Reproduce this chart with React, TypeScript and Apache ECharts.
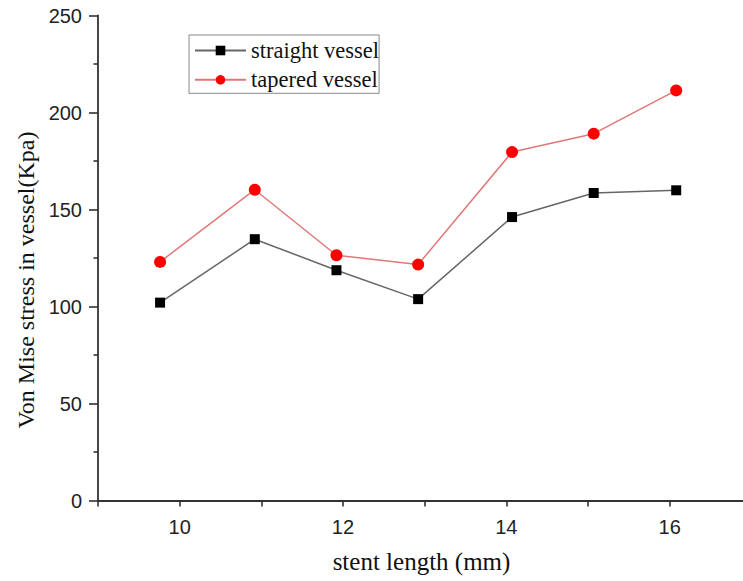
import React, { useEffect, useRef } from "react";
import * as echarts from "echarts";

const stentLength = [9.76, 10.92, 11.92, 12.92, 14.07, 15.07, 16.08];
const straightVessel = [102, 134.7, 118.7, 103.8, 146.1, 158.5, 159.9];
const taperedVessel = [123, 160.2, 126.4, 121.6, 179.6, 189.1, 211.4];
const seriesNames = ["straight vessel", "tapered vessel"];
const xTitle = "stent length (mm)";
const yTitle = "Von Mise stress in vessel(Kpa)";

const serif = "'Liberation Serif', 'Times New Roman', serif";
const sans = "'Liberation Sans', Arial, sans-serif";

export default function App() {
  const ref = useRef<HTMLDivElement>(null);
  useEffect(() => {
    if (!ref.current) return;
    const chart = echarts.init(ref.current, undefined, { renderer: "svg" });
    chart.setOption({
      animation: false,
      grid: { left: 98, right: 0, top: 15.5, bottom: 80.5 },
      legend: {
        orient: "vertical",
        left: 189,
        top: 35,
        padding: [4, 0, 2, 5],
        itemGap: 6.3,
        itemWidth: 51,
        itemHeight: 12,
        borderColor: "#888",
        borderWidth: 1,
        data: seriesNames,
        textStyle: { fontFamily: serif, fontSize: 22.5, color: "#111", lineHeight: 22 },
      },
      xAxis: {
        type: "value",
        min: 9,
        max: 16.898,
        interval: 1,
        axisLine: { show: true, lineStyle: { color: "#333", width: 1.8 } },
        axisTick: { show: true, length: 6, lineStyle: { color: "#333", width: 1.6 } },
        axisLabel: {
          fontFamily: sans,
          fontSize: 20,
          color: "#222",
          margin: 16,
          showMaxLabel: false,
          formatter: (v: number) => (Number.isInteger(v) && v % 2 === 0 ? String(v) : ""),
        },
        splitLine: { show: false },
        name: xTitle,
        nameLocation: "middle",
        nameGap: 48,
        nameTextStyle: { fontFamily: serif, fontSize: 25, color: "#111", padding: [0, 0, 0, 2] },
      },
      yAxis: {
        type: "value",
        min: 0,
        max: 250,
        interval: 50,
        axisLine: { show: true, lineStyle: { color: "#333", width: 1.8 } },
        axisTick: { show: true, length: 9, lineStyle: { color: "#333", width: 1.6 } },
        minorTick: { show: true, splitNumber: 2, length: 4.5, lineStyle: { color: "#333", width: 1.6 } },
        axisLabel: { fontFamily: sans, fontSize: 20, color: "#222", margin: 16 },
        splitLine: { show: false },
        name: yTitle,
        nameLocation: "middle",
        nameGap: 60,
        nameTextStyle: { fontFamily: serif, fontSize: 24, color: "#111", padding: [0, 44, 0, 0] },
      },
      series: [
        {
          name: seriesNames[0],
          type: "line",
          data: stentLength.map((x, i) => [x, straightVessel[i]]),
          symbol: "rect",
          symbolSize: 10,
          itemStyle: { color: "#000" },
          lineStyle: { color: "#666", width: 1.5 },
        },
        {
          name: seriesNames[1],
          type: "line",
          data: stentLength.map((x, i) => [x, taperedVessel[i]]),
          symbol: "circle",
          symbolSize: 12,
          itemStyle: { color: "#ff0000" },
          lineStyle: { color: "#e07878", width: 1.5 },
        },
      ],
    });
    return () => chart.dispose();
  }, []);
  return <div ref={ref} style={{ width: 743, height: 581, position: "absolute", left: 0, top: 0 }} />;
}
